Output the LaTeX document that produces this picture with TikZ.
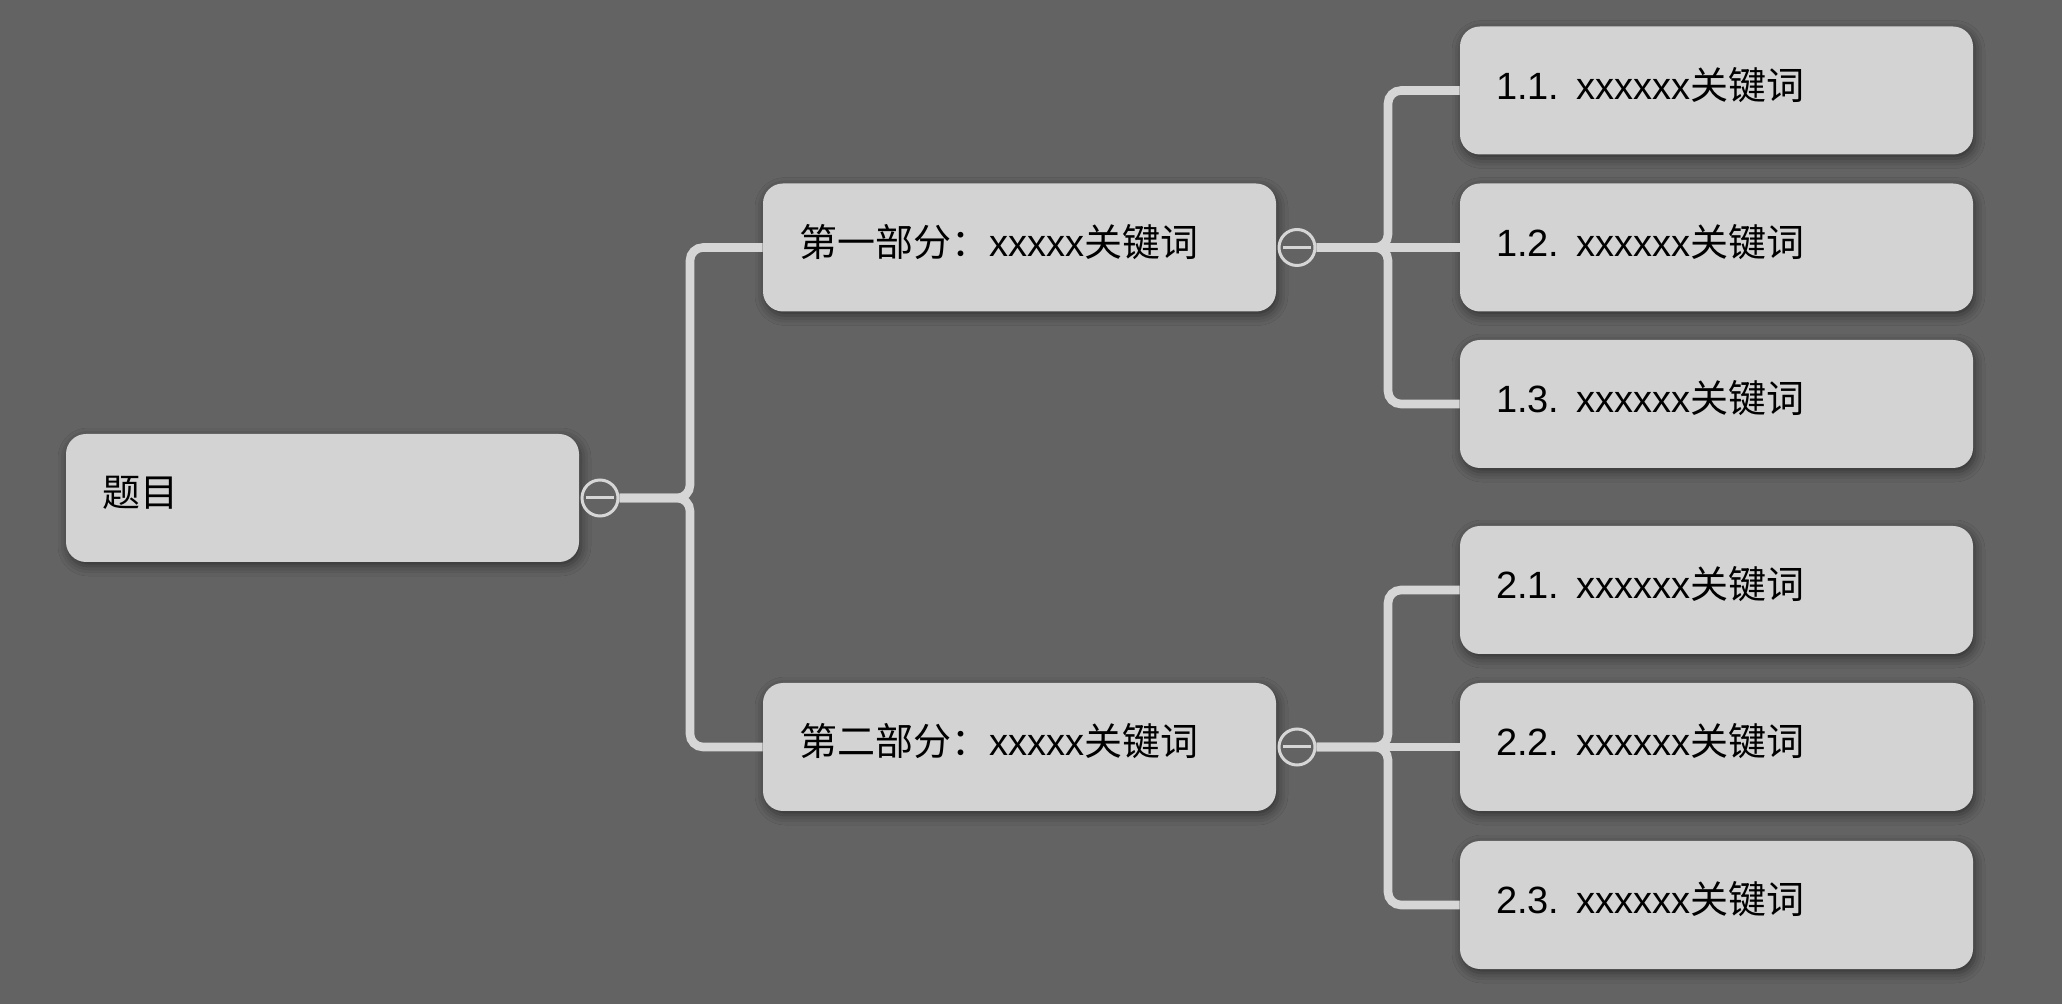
\documentclass[tikz,border=0pt]{standalone}
\usepackage{fontspec}
\setmainfont{Liberation Sans}
\newfontfamily\cjk{Noto Sans CJK SC}
\usepackage{tikz}
\usetikzlibrary{shadows.blur}
\definecolor{bgclr}{RGB}{99,99,99}
\definecolor{boxclr}{RGB}{211,211,211}
\definecolor{lineclr}{RGB}{214,214,214}
\newcommand{\topictext}[1]{\raisebox{-4.5pt}[0pt][0pt]{#1}}

\begin{document}
\begin{tikzpicture}[x=0.5pt,y=-0.5pt,
  topic/.style={fill=boxclr,rounded corners=10pt,minimum height=64pt,inner xsep=18pt,
    text width=220.5pt,align=left,font=\fontsize{19}{22}\selectfont,
    blur shadow={shadow xshift=1pt,shadow yshift=-2pt,shadow blur radius=5pt,shadow opacity=50}},
  collapse/.style={circle,draw=lineclr,line width=1.5pt,fill=bgclr,minimum size=18pt,inner sep=0pt,
    path picture={\draw[lineclr,line width=1.5pt] ([xshift=-7pt]path picture bounding box.center) -- ([xshift=7pt]path picture bounding box.center);}},
  branch/.style={lineclr,line width=4.3pt,rounded corners=6.5pt}]
  \path[use as bounding box,fill=bgclr] (0,0) rectangle (2062,1004);

  % Root
  \node[topic] (root) at (322.5,498) {\topictext{\cjk 题目}};
  \node[collapse] (c0) at (600,498) {};

  % First level
  \node[topic] (p1) at (1019.5,247.5) {\topictext{{\cjk 第一部分：}xxxxx{\cjk 关键词}}};
  \node[topic] (p2) at (1019.5,747) {\topictext{{\cjk 第二部分：}xxxxx{\cjk 关键词}}};
  \node[collapse] (c1) at (1297,247.5) {};
  \node[collapse] (c2) at (1297,747) {};

  % Second level
  \node[topic] (s11) at (1716.5,90.5) {\topictext{1.1.\hspace{8.5pt}xxxxxx{\cjk 关键词}}};
  \node[topic] (s12) at (1716.5,247.5) {\topictext{1.2.\hspace{8.5pt}xxxxxx{\cjk 关键词}}};
  \node[topic] (s13) at (1716.5,404) {\topictext{1.3.\hspace{8.5pt}xxxxxx{\cjk 关键词}}};
  \node[topic] (s21) at (1716.5,590) {\topictext{2.1.\hspace{8.5pt}xxxxxx{\cjk 关键词}}};
  \node[topic] (s22) at (1716.5,747) {\topictext{2.2.\hspace{8.5pt}xxxxxx{\cjk 关键词}}};
  \node[topic] (s23) at (1716.5,905) {\topictext{2.3.\hspace{8.5pt}xxxxxx{\cjk 关键词}}};

  % Connectors
  \coordinate (j0) at (690,498);
  \coordinate (j1) at (1388,247.5);
  \coordinate (j2) at (1388,747);
  \draw[branch] (c0.east) -- (j0) |- (p1.west);
  \draw[branch] (c0.east) -- (j0) |- (p2.west);
  \draw[branch] (c1.east) -- (j1) |- (s11.west);
  \draw[branch] (c1.east) -- (s12.west);
  \draw[branch] (c1.east) -- (j1) |- (s13.west);
  \draw[branch] (c2.east) -- (j2) |- (s21.west);
  \draw[branch] (c2.east) -- (s22.west);
  \draw[branch] (c2.east) -- (j2) |- (s23.west);
\end{tikzpicture}
\end{document}
